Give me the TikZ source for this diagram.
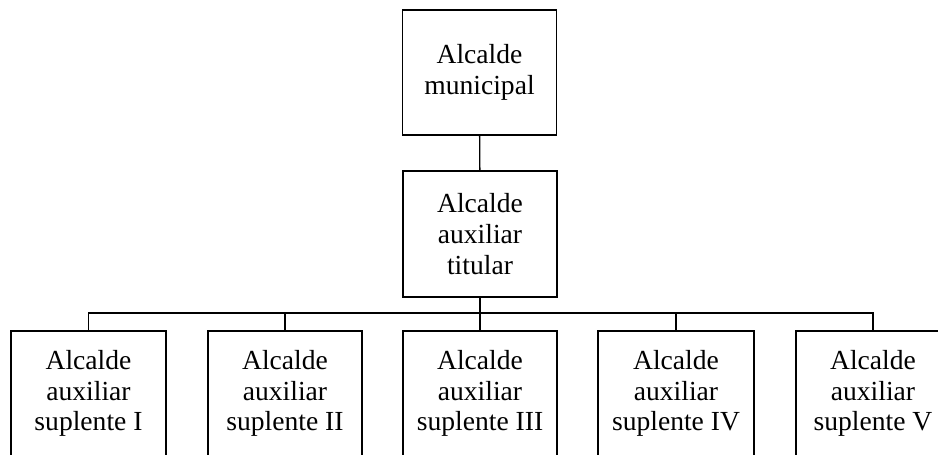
\documentclass[tikz,border=0pt]{standalone}
\usepackage{fontspec}
\setmainfont{Liberation Serif}
\usetikzlibrary{positioning}

\tikzset{
    office/.style={draw, line width=0.8pt, align=center, inner sep=0pt,
        minimum width=3.08cm, minimum height=2.5cm,
        font=\fontsize{15.7}{17.5}\selectfont},
    link/.style={line width=0.8pt}
}

\begin{document}
\begin{tikzpicture}[x=0.02cm, y=-0.02cm]
        \useasboundingbox (0,0) rectangle (938,454);
        \clip (0,0) rectangle (938,454);

        % Defining the offices
        \node[office] (municipal) at (479.5,72.5) {Alcalde\\municipal};
        \node[office, minimum height=2.52cm] (titular) at (480,234) {Alcalde\\auxiliar\\titular};

        \node[office, minimum width=3.1cm] (supI)   at (88.5,393.5) {Alcalde\\auxiliar\\suplente I};
        \node[office] (supII)  at (285,393.5) {Alcalde\\auxiliar\\suplente II};
        \node[office] (supIII) at (480,393.5) {Alcalde\\auxiliar\\suplente III};
        \node[office, minimum width=3.12cm] (supIV)  at (676,393.5) {Alcalde\\auxiliar\\suplente IV};
        \node[office] (supV)   at (873,393.5) {Alcalde\\auxiliar\\suplente V};

        % Links between the offices
        \coordinate (bus) at (480,313);
        \draw[link] (municipal) -- (titular);
        \draw[link] (titular) -- (bus);
        \draw[link] (supI.north) -- (supI.north |- bus) -- (supV.north |- bus) -- (supV.north);
        \foreach \s in {supII, supIII, supIV}
            \draw[link] (\s.north) -- (\s.north |- bus);

\end{tikzpicture}
\end{document}
